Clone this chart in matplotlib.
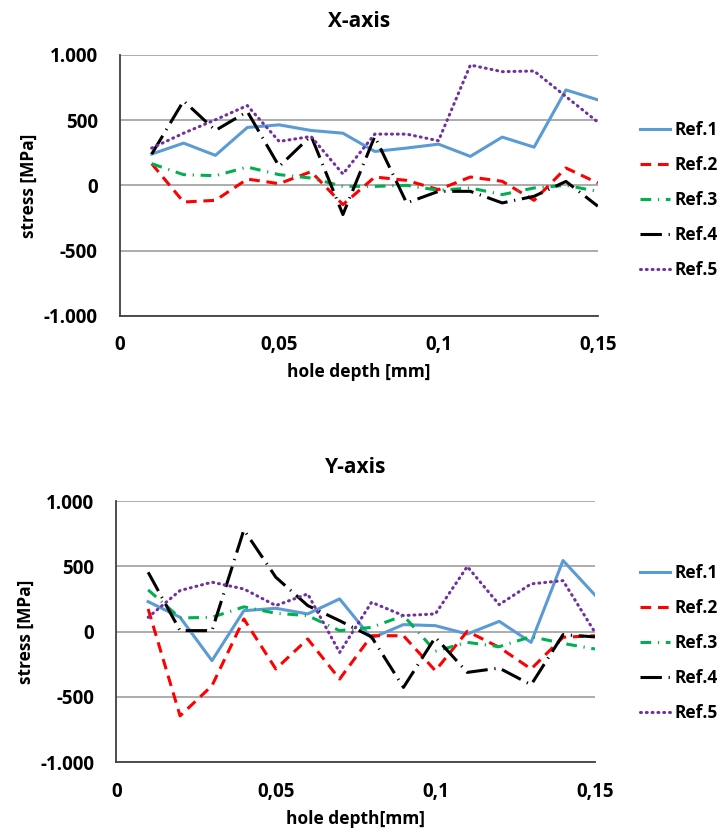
import matplotlib.pyplot as plt

depth = [0.01, 0.02, 0.03, 0.04, 0.05, 0.06, 0.07, 0.08,
         0.09, 0.10, 0.11, 0.12, 0.13, 0.14, 0.15]

# X-axis stresses [MPa]
x_ref1 = [240, 324, 230, 444, 464, 421, 400, 260, 286, 316, 222, 370, 293, 732, 656]
x_ref2 = [166, -128, -115, 48, 13, 105, -148, 64, 38, -33, 64, 31, -115, 133, 18]
x_ref3 = [166, 82, 74, 140, 82, 56, -8, -8, 0, -38, -20, -71, -20, 0, -46]
x_ref4 = [240, 648, 421, 566, 145, 380, -224, 375, -135, -46, -46, -135, -84, 30, -160]
x_ref5 = [286, 400, 503, 612, 337, 375, 87, 393, 393, 342, 923, 872, 877, 681, 485]

# Y-axis stresses [MPa]
y_ref1 = [230, 110, -222, 161, 179, 136, 251, -50, 54, 46, -18, 79, -82, 545, 281]
y_ref2 = [174, -645, -414, 97, -286, -56, -363, -31, -31, -299, 3, -120, -286, -43, -31]
y_ref3 = [320, 105, 110, 190, 141, 123, 8, 33, 123, -150, -82, -115, -38, -90, -133]
y_ref4 = [455, 8, 8, 780, 417, 200, 84, -40, -427, -43, -312, -279, -407, -23, -40]
y_ref5 = [110, 315, 379, 327, 200, 289, -159, 225, 123, 136, 499, 207, 366, 391, -5]

names = ['Ref.1', 'Ref.2', 'Ref.3', 'Ref.4', 'Ref.5']
yticks = [-1000, -500, 0, 500, 1000]
ytick_labels = ['-1.000', '-500', '0', '500', '1.000']
xticks = [0, 0.05, 0.1, 0.15]
xtick_labels = ['0', '0,05', '0,1', '0,15']

colors = ['#5B9BD5', '#FF0000', '#00B050', '#000000', '#7030A0']
styles = ['-', (0, (3.5, 2.2)), (0, (3.5, 2.2, 0.4, 2.2)),
          (0, (7, 2.2, 0.4, 2.2)), (0, (0.3, 1.6))]
caps = ['butt', 'butt', 'butt', 'butt', 'round']

plt.rcParams['font.family'] = ['Open Sans', 'DejaVu Sans']
plt.rcParams['font.weight'] = 'bold'


def draw_panel(fig, rect, series, title, xlabel, legend_y):
    ax = fig.add_axes(rect)
    for vals, name, c, ls, cap in zip(series, names, colors, styles, caps):
        ax.plot(depth, vals, color=c, linestyle=ls, linewidth=2.2,
                dash_capstyle=cap, label=name)
    ax.set_xlim(0, 0.15)
    ax.set_ylim(-1000, 1000)
    ax.set_yticks(yticks, ytick_labels)
    ax.set_xticks(xticks, xtick_labels)
    ax.tick_params(length=0, labelsize=13.5)
    ax.tick_params(axis='y', pad=16)
    ax.tick_params(axis='x', pad=14)
    ax.grid(axis='y', color='#a6a6a6', linewidth=1.3)
    ax.set_axisbelow(True)
    for s in ['top', 'right']:
        ax.spines[s].set_visible(False)
    ax.spines['left'].set_color('#404040')
    ax.spines['bottom'].set_color('#404040')
    ax.spines['left'].set_linewidth(1.3)
    ax.spines['bottom'].set_linewidth(1.3)
    ax.set_title(title, fontsize=15, fontweight='bold', pad=20)
    ax.set_xlabel(xlabel, fontsize=12.5, fontweight='bold', labelpad=6)
    ax.set_ylabel('stress [MPa]', fontsize=12.5, fontweight='bold', labelpad=4)
    ax.legend(loc='upper left', bbox_to_anchor=(0.886, legend_y),
              bbox_transform=fig.transFigure, frameon=False,
              handlelength=1.75, handletextpad=0.25, labelspacing=0.98,
              borderpad=0, borderaxespad=0,
              prop={'weight': 'bold', 'size': 12.5})
    return ax


fig = plt.figure(figsize=(7.22, 8.33), dpi=100)
draw_panel(fig, [0.166, 0.621, 0.662, 0.313],
           [x_ref1, x_ref2, x_ref3, x_ref4, x_ref5],
           'X-axis', 'hole depth [mm]', 0.855)
draw_panel(fig, [0.161, 0.085, 0.663, 0.3134],
           [y_ref1, y_ref2, y_ref3, y_ref4, y_ref5],
           'Y-axis', 'hole depth[mm]', 0.323)
fig.savefig('out.png', dpi=100)
